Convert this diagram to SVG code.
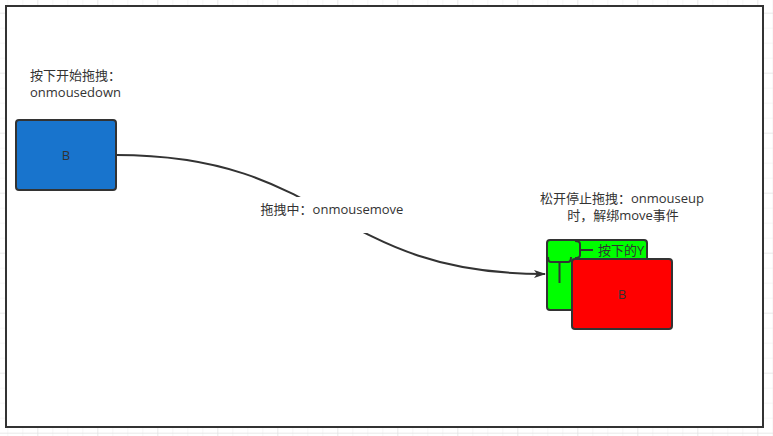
<svg xmlns="http://www.w3.org/2000/svg" width="773" height="436" viewBox="0 0 773 436">
  <style>
    .txt { font-family: "Open Sans", "Noto Sans CJK SC", sans-serif; font-size: 13px; fill: #333333; }
    .node { stroke: #333333; stroke-width: 2; }
    .edge { fill: none; stroke: #333333; stroke-width: 2; }
    .brace { fill: none; stroke: #333333; stroke-width: 2; stroke-linecap: butt; stroke-linejoin: round; }
  </style>
  <defs>
    <pattern id="gridMinor" patternUnits="userSpaceOnUse" x="7.3" y="12.7" width="15" height="15">
      <path d="M0,0 L0,15 M0,0 L15,0" fill="none" stroke="#ededed" stroke-width="1"/>
    </pattern>
    <pattern id="gridMajor" patternUnits="userSpaceOnUse" x="37.3" y="12.7" width="60" height="60">
      <path d="M0,0 L0,60 M0,0 L60,0" fill="none" stroke="#e0e0e0" stroke-width="1"/>
    </pattern>
    <marker id="arrow" viewBox="0 0 12 8" refX="11" refY="4" markerWidth="12" markerHeight="8" markerUnits="userSpaceOnUse" orient="auto">
      <path d="M0,0 L12,4 L0,8 L3,4 Z" fill="#333333"/>
    </marker>
  </defs>

  <g id="background">
    <rect x="0" y="0" width="773" height="436" fill="#ffffff"/>
    <rect x="0" y="0" width="773" height="436" fill="url(#gridMinor)"/>
    <rect x="0" y="0" width="773" height="436" fill="url(#gridMajor)"/>
  </g>

  <g id="frame">
    <rect x="6" y="6" width="757" height="421" fill="#ffffff" stroke="#333333" stroke-width="2"/>
  </g>

  <g id="label-down">
    <text class="txt" x="30" y="80">按下开始拖拽：</text>
    <text class="txt" x="30" y="96.5">onmousedown</text>
  </g>

  <g id="connectors">
    <path class="edge" d="M116,155 C332,155 330,274 545,274" marker-end="url(#arrow)"/>
    <g id="edge-label">
      <rect x="255" y="197" width="155" height="36" fill="#ffffff"/>
      <text class="txt" x="332" y="213.5" text-anchor="middle">拖拽中：onmousemove</text>
    </g>
  </g>

  <g id="node-b-start">
    <rect class="node" x="16" y="120" width="100" height="70" rx="3" fill="#1874cd"/>
    <text class="txt" x="66" y="159.5" text-anchor="middle">B</text>
  </g>

  <g id="label-up">
    <text class="txt" x="622" y="203" text-anchor="middle">松开停止拖拽：onmouseup</text>
    <text class="txt" x="623" y="219.5" text-anchor="middle">时，解绑move事件</text>
  </g>

  <g id="node-green">
    <rect class="node" x="547" y="240" width="100" height="70" rx="3" fill="#00ff00"/>
  </g>

  <g id="brace-y">
    <path class="brace" d="M575,241 Q580,241 580,244 L580,255 Q580,258 575,258 M580,250 L593,250"/>
    <text class="txt" x="598" y="254.5">按下的Y</text>
  </g>

  <g id="brace-x">
    <path class="brace" d="M548,257 Q548,262 551,262 L568,262 Q571,262 571,257 M559.5,262 L559.5,283"/>
  </g>

  <g id="node-b-end">
    <rect class="node" x="572" y="259" width="100" height="70" rx="3" fill="#ff0000"/>
    <text class="txt" x="622" y="298.5" text-anchor="middle">B</text>
  </g>
</svg>
